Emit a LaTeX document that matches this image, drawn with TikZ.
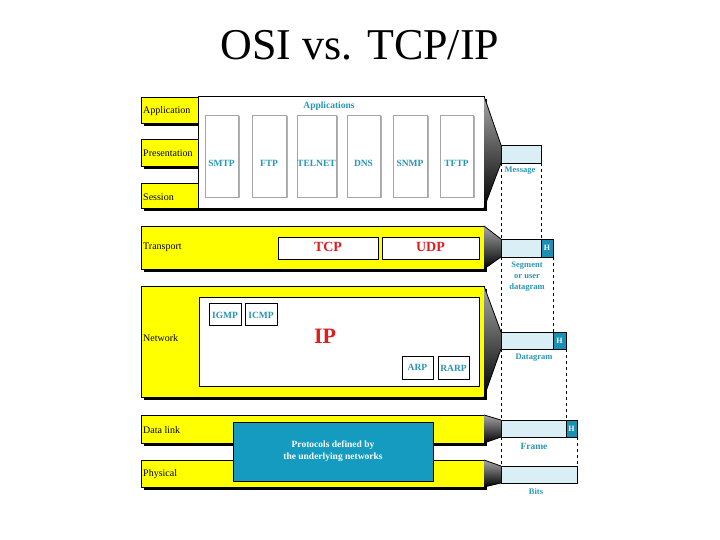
\documentclass[tikz,border=0pt]{standalone}
\usepackage{fontspec}
\setmainfont{Liberation Serif}
\usetikzlibrary{positioning,shadows,calc}
\definecolor{layeryellow}{RGB}{255,255,0}
\definecolor{prottxt}{RGB}{40,150,180}
\definecolor{iptxt}{RGB}{222,30,30}
\definecolor{pktblue}{RGB}{218,238,245}
\definecolor{hdrblue}{RGB}{25,145,180}
\definecolor{netblue}{RGB}{22,155,192}

\begin{document}
\begin{tikzpicture}[x=1pt,y=-1pt,
  layer/.style={draw=black,line width=0.8pt,fill=layeryellow,inner sep=0pt,outer sep=0pt,
    drop shadow={fill=black,opacity=1,shadow xshift=3pt,shadow yshift=-3pt}},
  whitebox/.style={draw=black,line width=0.6pt,fill=white,inner sep=0pt,outer sep=0pt},
  appbox/.style={draw=gray!70,line width=0.6pt,fill=white,inner sep=0pt,outer sep=0pt,minimum height=82pt,
    drop shadow={fill=gray!60,opacity=1,shadow xshift=1.5pt,shadow yshift=-1pt}},
  laytxt/.style={font=\fontsize{10}{11}\selectfont,anchor=west,inner sep=0pt},
  prottxt/.style={font=\bfseries\fontsize{9.5}{11}\selectfont,text=prottxt,inner sep=0pt},
  redtxt/.style={font=\bfseries\fontsize{14}{16}\selectfont,text=iptxt,inner sep=0pt},
  pkt/.style={draw=black,line width=0.6pt,fill=pktblue,inner sep=0pt,outer sep=0pt},
  hdr/.style={draw=black,line width=0.6pt,fill=hdrblue,text=white,inner sep=0pt,outer sep=0pt,
    font=\bfseries\fontsize{8}{9}\selectfont},
  pkttxt/.style={font=\bfseries\fontsize{8.5}{11}\selectfont,text=prottxt,inner sep=0pt,align=center},
  gap/.style={dashed,line width=0.6pt}
]
\useasboundingbox (0,0) rectangle (720,540);

% the title
\node[anchor=base,font=\fontsize{44}{50}\selectfont] (title) at (360,60) {OSI vs. TCP/IP};

% application, presentation, session
\node[layer,minimum width=57pt,minimum height=26pt] (appL) at (169.5,110) {};
\node[layer,minimum width=57pt,minimum height=27pt] (preL) at (169.5,152.5) {};
\node[layer,minimum width=57pt,minimum height=25pt] (sesL) at (169.5,195.5) {};
\node[laytxt] (appT) at (143,111) {Application};
\node[laytxt] (preT) at (143,153) {Presentation};
\node[laytxt] (sesT) at (143,197) {Session};

\node[whitebox,line width=0.8pt,minimum width=286pt,minimum height=112pt,
  drop shadow={fill=black,opacity=1,shadow xshift=3pt,shadow yshift=-3pt}] (appblk) at (341,152) {};
\node[prottxt] (apps) at (329,106) {Applications};
\foreach \nm/\cx/\w in {SMTP/221.5/33, FTP/269/34, TELNET/316.5/39, DNS/363.5/33, SNMP/410/34, TFTP/456.5/33} {
  \node[appbox,minimum width=\w pt] (\nm) at (\cx,156) {};
  \node[prottxt] (\nm-t) at (\cx,163) {\nm};
}

% transport
\node[layer,minimum width=343pt,minimum height=43pt] (tptbar) at (312.5,247.5) {};
\node[laytxt] (tptT) at (143,247) {Transport};
\node[whitebox,minimum width=100pt,minimum height=22pt] (tcp) at (328,248) {};
\node[whitebox,minimum width=97pt,minimum height=22pt] (udp) at (430.5,248) {};
\node[redtxt] (tcp-t) at (328,247) {TCP};
\node[redtxt] (udp-t) at (430.5,247) {UDP};

% network
\node[layer,minimum width=343pt,minimum height=111pt] (netbar) at (312.5,341.5) {};
\node[laytxt] (netT) at (143,338) {Network};
\node[whitebox,minimum width=280pt,minimum height=89pt] (ipblk) at (339,341.5) {};
\node[whitebox,minimum width=32pt,minimum height=22pt] (igmp) at (225,314) {};
\node[whitebox,minimum width=32pt,minimum height=22pt] (icmp) at (261,314) {};
\node[whitebox,minimum width=31pt,minimum height=23pt] (arp) at (417.5,367.5) {};
\node[whitebox,minimum width=31pt,minimum height=23pt] (rarp) at (453.5,367.5) {};
\node[prottxt] (igmp-t) at (225,315) {IGMP};
\node[prottxt] (icmp-t) at (261,315) {ICMP};
\node[prottxt] (arp-t) at (417.5,367.5) {ARP};
\node[prottxt] (rarp-t) at (453.5,368.5) {RARP};
\node[redtxt,font=\bfseries\fontsize{22}{24}\selectfont] (ip) at (325,336) {IP};

% data link and physical
\node[layer,minimum width=343pt,minimum height=28pt] (dlbar) at (312.5,429) {};
\node[layer,minimum width=343pt,minimum height=27pt] (phybar) at (312.5,473.5) {};
\node[laytxt] (dlT) at (143,430) {Data link};
\node[laytxt] (phyT) at (143,474) {Physical};
\node[draw=black,line width=1pt,fill=netblue,minimum width=200pt,minimum height=59pt,inner sep=0pt,
  text=white,align=center,font=\bfseries\fontsize{9.5}{12}\selectfont] (under) at (333,451.5)
  {Protocols defined by\\the underlying networks};

% the packets
\node[pkt,minimum width=40pt,minimum height=18pt] (msg) at (521,154) {};
\node[pkt,minimum width=40pt,minimum height=18pt] (seg) at (521,248) {};
\node[hdr,minimum width=12pt,minimum height=18pt] (segH) at (547,248) {H};
\node[pkt,minimum width=52pt,minimum height=17pt] (dgram) at (527,340.5) {};
\node[hdr,minimum width=13pt,minimum height=17pt] (dgH) at (559.5,340.5) {H};
\node[pkt,minimum width=65pt,minimum height=17pt] (frame) at (533.5,428.5) {};
\node[hdr,minimum width=11pt,minimum height=17pt] (frH) at (571.5,428.5) {H};
\node[pkt,minimum width=76pt,minimum height=17pt] (bits) at (539,474.5) {};
\node[pkttxt] (msg-t) at (520,171) {Message};
\node[pkttxt] (seg-t) at (527,277) {Segment\\or user\\datagram};
\node[pkttxt] (dgram-t) at (534,358) {Datagram};
\node[pkttxt,font=\bfseries\fontsize{9.5}{11}\selectfont] (frame-t) at (534,446) {Frame};
\node[pkttxt] (bits-t) at (536,492) {Bits};

% the funnels
\foreach \blk/\pk in {appblk/msg, tptbar/seg, netbar/dgram, dlbar/frame, phybar/bits} {
  \shade[top color=gray!70,middle color=gray!10,bottom color=black]
    (\blk.north east) -- (\pk.north west) -- (\pk.south west) -- (\blk.south east) -- cycle;
  \draw[line width=0.8pt] (\blk.north east) -- (\pk.north west);
  \draw[line width=0.8pt] (\pk.south west) -- (\blk.south east);
}

% the dashed guides
\draw[gap] (msg.south west) -- (seg.north west);
\draw[gap] (seg.south west) -- (dgram.north west);
\draw[gap] (dgram.south west) -- (frame.north west);
\draw[gap] (frame.south west) -- (bits.north west);
\draw[gap] (msg.south east) -- (segH.north west);
\draw[gap] (segH.south east) -- (dgH.north west);
\draw[gap] (dgH.south east) -- (frH.north west);
\draw[gap] (frH.south east) -- (bits.north east);
\end{tikzpicture}
\end{document}
